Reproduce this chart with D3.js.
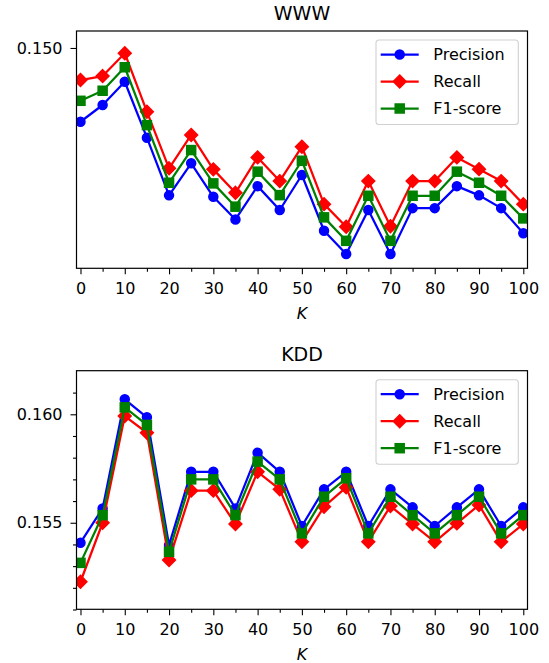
<!DOCTYPE html>
<html>
<head>
<meta charset="utf-8">
<script src="https://cdn.jsdelivr.net/npm/d3@7"></script>
<style>
  body { margin: 0; background: #fff; }
  svg { display: block; font-family: "DejaVu Sans", sans-serif; }
</style>
</head>
<body>
<svg id="chart" width="549" height="663"></svg>
<script>
const K = [0, 5, 10, 15, 20, 25, 30, 35, 40, 45, 50, 55, 60, 65, 70, 75, 80, 85, 90, 95, 100];

// WWW
const wwwPrecision = [0.14648, 0.14728, 0.14839, 0.14572, 0.14297, 0.14450, 0.14290, 0.14182, 0.14341, 0.14227,
    0.14394, 0.14128, 0.14017, 0.14227, 0.14017, 0.14236, 0.14236, 0.14341, 0.14297, 0.14236, 0.14116];
const wwwRecall = [0.14847, 0.14866, 0.14975, 0.14696, 0.14426, 0.14585, 0.14421, 0.14309, 0.14478, 0.14365,
    0.14529, 0.14255, 0.14147, 0.14365, 0.14150, 0.14365, 0.14365, 0.14478, 0.14422, 0.14365, 0.14255];
const wwwF1 = [0.14748, 0.14796, 0.14908, 0.14632, 0.14357, 0.14513, 0.14354, 0.14243, 0.14410, 0.14298,
    0.14462, 0.14192, 0.14080, 0.14295, 0.14080, 0.14295, 0.14295, 0.14410, 0.14357, 0.14295, 0.14187];

// KDD
const kddPrecision = [0.15408, 0.15566, 0.16069, 0.15986, 0.15397, 0.15735, 0.15735, 0.15566, 0.15823, 0.15735,
    0.15485, 0.15654, 0.15735, 0.15485, 0.15654, 0.15571, 0.15485, 0.15571, 0.15654, 0.15485, 0.15571];
const kddRecall = [0.15228, 0.15500, 0.15992, 0.15915, 0.15328, 0.15648, 0.15648, 0.15494, 0.15735, 0.15654,
    0.15412, 0.15574, 0.15663, 0.15412, 0.15577, 0.15494, 0.15412, 0.15497, 0.15582, 0.15412, 0.15494];
const kddF1 = [0.15315, 0.15535, 0.16032, 0.15951, 0.15366, 0.15700, 0.15700, 0.15535, 0.15782, 0.15700,
    0.15451, 0.15620, 0.15705, 0.15451, 0.15620, 0.15535, 0.15451, 0.15535, 0.15620, 0.15451, 0.15535];

const xMajor = [0, 10, 20, 30, 40, 50, 60, 70, 80, 90, 100];
const xMinor = [5, 15, 25, 35, 45, 55, 65, 75, 85, 95];
const wwwYMajor = [0.150];
const kddYMajor = [0.155, 0.160];
const kddYMinor = [0.151, 0.152, 0.153, 0.154, 0.156, 0.157, 0.158, 0.159, 0.161];

const seriesNames = ["Precision", "Recall", "F1-score"];
const seriesColors = ["#0000ff", "#ff0000", "#008000"];
const seriesMarkers = ["circle", "diamond", "square"];

const svg = d3.select("#chart");
const left = 76.5, right = 527.5;
const fontSize = 16;

function marker(g, type, color) {
    if (type === "circle") {
        g.append("circle").attr("r", 4.5);
    } else if (type === "diamond") {
        g.append("path").attr("d", "M0,-6.4L6.4,0L0,6.4L-6.4,0Z");
    } else {
        g.append("rect").attr("x", -4.5).attr("y", -4.5).attr("width", 9).attr("height", 9);
    }
    g.selectAll("*")
        .attr("fill", color)
        .attr("stroke", color)
        .attr("stroke-width", 1.5)
        .attr("stroke-linejoin", "miter");
}

function drawPanel(opts) {
    const x = d3.scaleLinear().domain([-0.9, 100.95]).range([left, right]);
    const y = d3.scaleLinear().domain(opts.yDomain).range([opts.bottom, opts.top]);
    const g = svg.append("g");

    // title
    g.append("text")
        .attr("x", (left + right) / 2)
        .attr("y", opts.titleY)
        .attr("text-anchor", "middle")
        .attr("font-size", 19)
        .text(opts.title);

    // series
    const clip = "clip-" + opts.title;
    g.append("clipPath").attr("id", clip)
        .append("rect")
        .attr("x", left).attr("y", opts.top)
        .attr("width", right - left).attr("height", opts.bottom - opts.top);

    const plot = g.append("g").attr("clip-path", `url(#${clip})`);
    const line = d3.line().x((d, i) => x(K[i])).y(d => y(d));

    opts.series.forEach((vals, s) => {
        plot.append("path")
            .datum(vals)
            .attr("d", line)
            .attr("fill", "none")
            .attr("stroke", seriesColors[s])
            .attr("stroke-width", 2.25)
            .attr("stroke-linejoin", "round")
            .attr("stroke-linecap", "round");
        vals.forEach((v, i) => {
            const m = plot.append("g").attr("transform", `translate(${x(K[i])},${y(v)})`);
            marker(m, seriesMarkers[s], seriesColors[s]);
        });
    });

    // axes
    const xAxis = d3.axisBottom(x).tickValues(xMajor).tickSize(6).tickPadding(8.5)
        .tickFormat(d3.format("d"));
    const xAxisMinor = d3.axisBottom(x).tickValues(xMinor).tickSize(3.5).tickFormat("");
    const yAxis = d3.axisLeft(y).tickValues(opts.yMajor).tickSize(6).tickPadding(8)
        .tickFormat(d3.format(".3f"));
    const yAxisMinor = d3.axisLeft(y).tickValues(opts.yMinor).tickSize(3.5).tickFormat("");

    [[xAxis, `translate(0,${opts.bottom})`], [xAxisMinor, `translate(0,${opts.bottom})`],
     [yAxis, `translate(${left},0)`], [yAxisMinor, `translate(${left},0)`]].forEach(([ax, tr]) => {
        const a = g.append("g").attr("transform", tr).call(ax);
        a.select(".domain").remove();
        a.selectAll("line").attr("stroke", "#000").attr("stroke-width", 1.1);
        a.selectAll("text").attr("font-size", fontSize).attr("fill", "#000")
            .attr("font-family", "DejaVu Sans, sans-serif");
    });

    // frame
    g.append("rect")
        .attr("x", left).attr("y", opts.top)
        .attr("width", right - left).attr("height", opts.bottom - opts.top)
        .attr("fill", "none").attr("stroke", "#000").attr("stroke-width", 1.2);

    // x label
    g.append("text")
        .attr("x", (left + right) / 2)
        .attr("y", opts.bottom + 51)
        .attr("text-anchor", "middle")
        .attr("font-size", fontSize)
        .attr("font-style", "italic")
        .text("K");

    // legend
    const lx = 376, ly = opts.top + 9;
    const leg = g.append("g").attr("transform", `translate(${lx},${ly})`);
    leg.append("rect")
        .attr("width", 142.3).attr("height", 84.5)
        .attr("rx", 3).attr("ry", 3)
        .attr("fill", "#fff").attr("fill-opacity", 0.8)
        .attr("stroke", "#d0d0d0").attr("stroke-width", 1.1);
    seriesNames.forEach((name, s) => {
        const ry = 14.5 + s * 27;
        leg.append("line")
            .attr("x1", 4.7).attr("x2", 42.7).attr("y1", ry).attr("y2", ry)
            .attr("stroke", seriesColors[s]).attr("stroke-width", 2.25);
        const m = leg.append("g").attr("transform", `translate(23.7,${ry})`);
        marker(m, seriesMarkers[s], seriesColors[s]);
        leg.append("text")
            .attr("x", 57.3).attr("y", ry + 5.8)
            .attr("font-size", fontSize)
            .text(name);
    });
}

drawPanel({
    title: "WWW", titleY: 19.5, top: 31, bottom: 268.3,
    yDomain: [0.13949, 0.15081], yMajor: wwwYMajor, yMinor: [],
    series: [wwwPrecision, wwwRecall, wwwF1]
});

drawPanel({
    title: "KDD", titleY: 361, top: 370.7, bottom: 609.3,
    yDomain: [0.15101, 0.16201], yMajor: kddYMajor, yMinor: kddYMinor,
    series: [kddPrecision, kddRecall, kddF1]
});
</script>
</body>
</html>
